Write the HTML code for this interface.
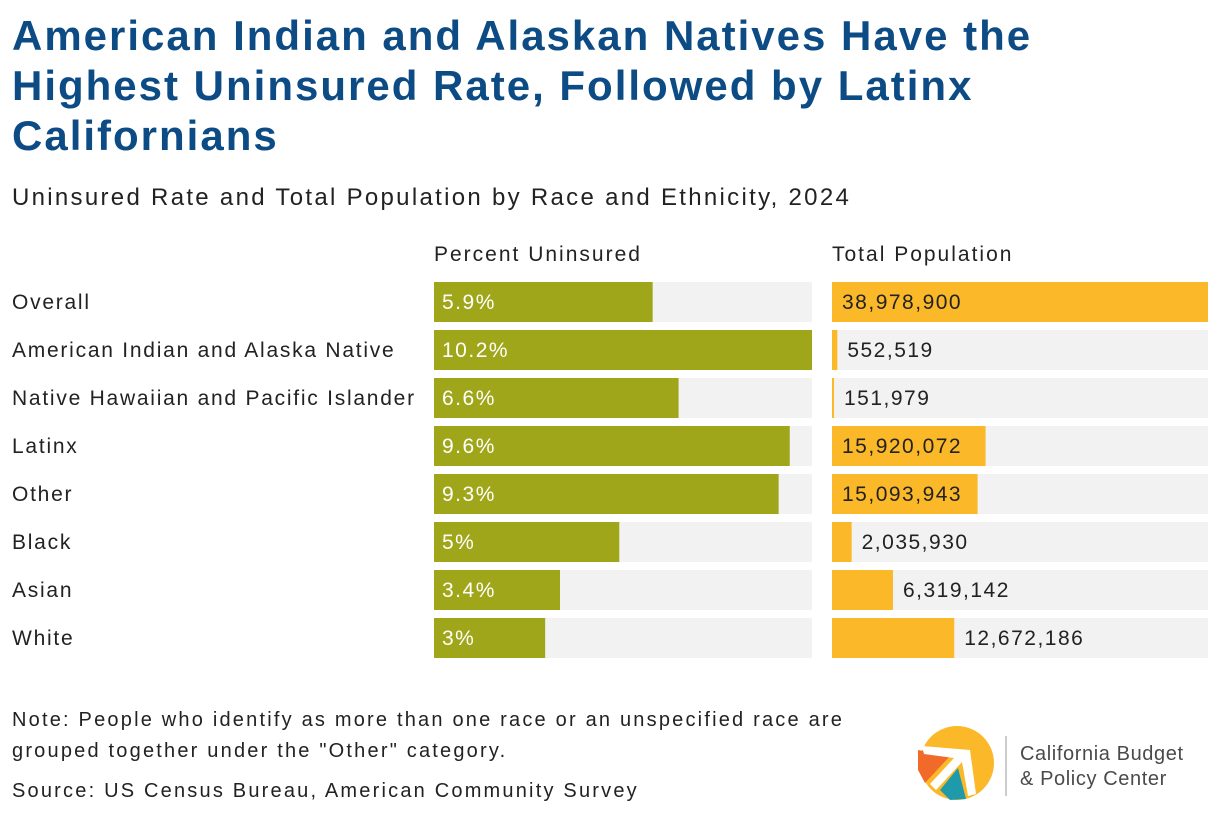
<!DOCTYPE html>
<html><head><meta charset="utf-8">
<style>
body{margin:0;width:1220px;height:820px;background:#fff;font-family:"Liberation Sans",sans-serif;overflow:hidden;position:relative}
h1{position:absolute;left:12px;top:11px;margin:0;font-size:42px;line-height:50px;color:#0d4b85;font-weight:bold;letter-spacing:2px;white-space:nowrap}
.sub{position:absolute;left:12px;top:184px;font-size:24px;color:#222;letter-spacing:2.3px}
.t{position:absolute;font-size:21px;color:#222;white-space:nowrap;letter-spacing:2px}
</style></head><body>
<h1>American Indian and Alaskan Natives Have the<br>Highest Uninsured Rate, Followed by Latinx<br>Californians</h1>
<div class="sub">Uninsured Rate and Total Population by Race and Ethnicity, 2024</div>
<div class="t" style="left:434px;top:243px">Percent Uninsured</div>
<div class="t" style="left:832px;top:243px">Total Population</div>
<svg id="c" width="1220" height="820" style="position:absolute;left:0;top:0"></svg>
<div class="t" style="left:12px;top:705px;line-height:31px;font-size:20px;letter-spacing:2.2px">Note: People who identify as more than one race or an unspecified race are<br>grouped together under the "Other" category.</div>
<div class="t" style="left:12px;top:780px;font-size:20px;letter-spacing:2.2px">Source: US Census Bureau, American Community Survey</div>
<svg width="290" height="90" style="position:absolute;left:910px;top:720px">
<circle cx="47" cy="43" r="37" fill="#fbb829"/>
<polygon points="8,30 40,36 15,63 8,50" fill="#f26a29"/>
<polygon points="30,70 48,48 56,79 40,80" fill="#1e9aab"/>
<polygon points="12,26 60,30 66,74 58,76 52,42 26,70 20,64 44,38 14,34" fill="#fff"/>
<line x1="96" y1="16" x2="96" y2="76" stroke="#bbb" stroke-width="1.5"/>
<text x="110" y="40" font-size="20" fill="#4a4a4a" font-family="Liberation Sans" letter-spacing="0.6">California Budget</text>
<text x="110" y="65" font-size="20" fill="#4a4a4a" font-family="Liberation Sans" letter-spacing="0.6">&amp; Policy Center</text>
</svg>
<script>
const categories=["Overall","American Indian and Alaska Native","Native Hawaiian and Pacific Islander","Latinx","Other","Black","Asian","White"];
const pctValues=[5.9,10.2,6.6,9.6,9.3,5,3.4,3];
const popValues=[38978900,552519,151979,15920072,15093943,2035930,6319142,12672186];
const pctLabels=["5.9%","10.2%","6.6%","9.6%","9.3%","5%","3.4%","3%"];
const svg=document.getElementById('c');const NS="http://www.w3.org/2000/svg";
function mk(t,a){const e=document.createElementNS(NS,t);for(const k in a)e.setAttribute(k,a[k]);svg.appendChild(e);return e;}
const pMax=Math.max(...pctValues),qMax=Math.max(...popValues);
const xP=v=>v/pMax*378, xQ=v=>Math.max(2,v/qMax*376);
const yRow=i=>282+i*48;
categories.forEach((c,i)=>{
 const y=yRow(i);
 let l=mk('text',{x:12,y:y+27,'font-size':21,fill:'#222','font-family':'Liberation Sans','letter-spacing':1.75});l.textContent=c;
 
 let b1=mk('rect',{x:434,y:y,width:378,height:40,fill:'#f2f2f2'});
 
 let b=mk('rect',{x:434,y:y,width:xP(pctValues[i]),height:40,fill:'#a0a619'});
 
 let t=mk('text',{x:442,y:y+27,'font-size':21,fill:'#fff','font-family':'Liberation Sans','letter-spacing':1.5});t.textContent=pctLabels[i];
 
 let b2=mk('rect',{x:832,y:y,width:376,height:40,fill:'#f2f2f2'});
 
 const w=xQ(popValues[i]);
 let q=mk('rect',{x:832,y:y,width:w,height:40,fill:'#fbb829'});
 
 const inside=w>135;
 let u=mk('text',{x:inside?842:832+w+10,y:y+27,'font-size':21,fill:'#222','font-family':'Liberation Sans','letter-spacing':1.5});
 u.textContent=popValues[i].toLocaleString('en-US');
 
});
</script>
</body></html>
